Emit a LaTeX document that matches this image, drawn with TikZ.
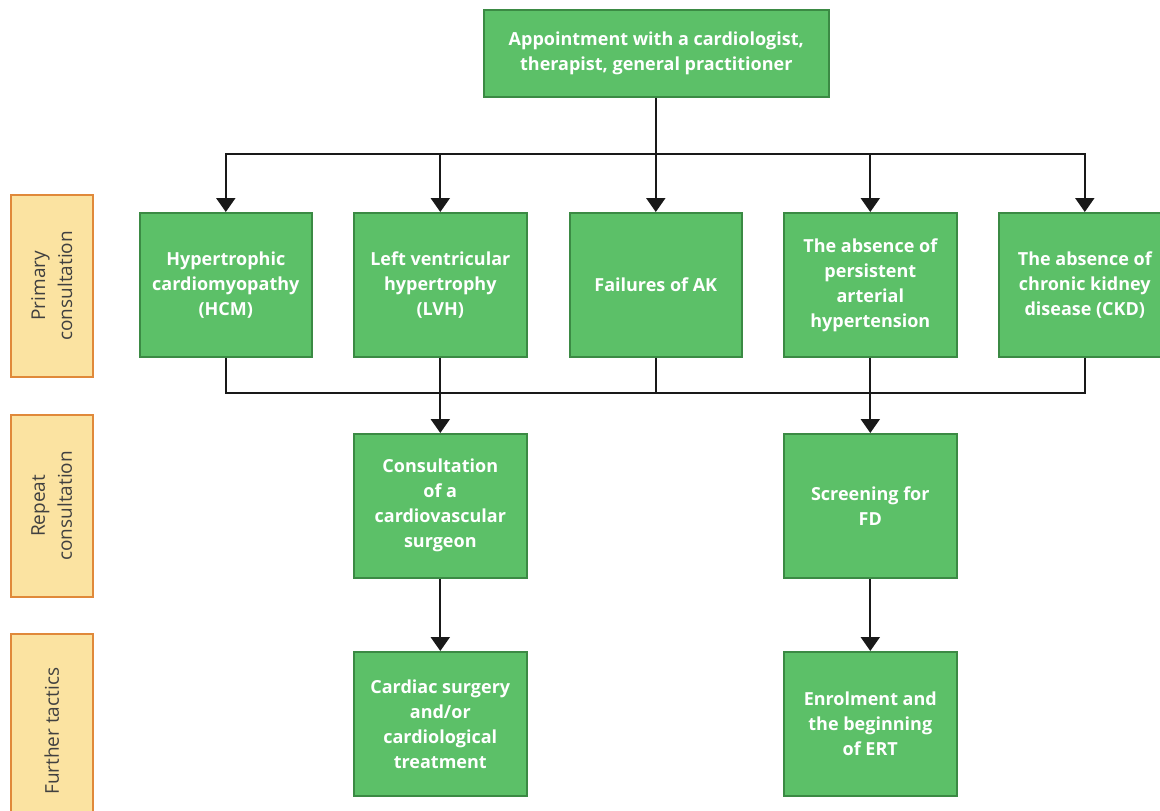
\documentclass[tikz,border=0pt]{standalone}
\usepackage{fontspec}
\setmainfont{Open Sans}
\usetikzlibrary{arrows.meta}
\definecolor{boxgreen}{HTML}{5CC068}
\definecolor{boxedge}{HTML}{3B8A44}
\definecolor{sidefill}{HTML}{FBE3A1}
\definecolor{sidetext}{HTML}{404040}
\definecolor{sideedge}{HTML}{E0893A}
\tikzset{
  gbox/.style={draw=boxedge, line width=1.6pt, fill=boxgreen, text=white, font=\fontsize{18}{25}\selectfont\bfseries, align=center, inner sep=0pt, anchor=north west},
  sidebox/.style={draw=sideedge, line width=1.6pt, fill=sidefill, anchor=north west},
  sidelabel/.style={text=sidetext, font=\fontsize{19}{27}\selectfont, align=center, rotate=90},
  conn/.style={line width=2.2pt, draw=black!90},
  arr/.style={conn, -{Triangle[length=14pt,width=19pt]}},
}
\begin{document}
\begin{tikzpicture}[x=1pt,y=-1pt]
\useasboundingbox (0,0) rectangle (1160,811);
\clip (0,0) rectangle (1160,811);
% side labels
\node[sidebox, minimum width=82pt, minimum height=182pt] (s1) at (10,194) {};
\node[sidelabel] (s1t) at (s1.center) {Primary\\consultation};
\node[sidebox, minimum width=82pt, minimum height=182pt] (s2) at (10,414) {};
\node[sidelabel] (s2t) at (s2.center) {Repeat\\consultation};
\node[sidebox, minimum width=82pt, minimum height=185pt] (s3) at (10,633) {};
\node[sidelabel] (s3t) at ([yshift=-5pt]s3.center) {Further tactics};
% top
\node[gbox, minimum width=345pt, minimum height=87pt] (top) at (483,9) {Appointment with a cardiologist,\\therapist, general practitioner};
% row 1
\node[gbox, minimum width=172pt, minimum height=144pt] (b1) at (139,212) {Hypertrophic\\cardiomyopathy\\(HCM)};
\node[gbox, minimum width=173pt, minimum height=144pt] (b2) at (353,212) {Left ventricular\\hypertrophy\\(LVH)};
\node[gbox, minimum width=172pt, minimum height=144pt] (b3) at (569,212) {Failures of AK};
\node[gbox, minimum width=173pt, minimum height=144pt] (b4) at (783,212) {The absence of\\persistent\\arterial\\hypertension};
\node[gbox, minimum width=172pt, minimum height=144pt] (b5) at (998,212) {The absence of\\chronic kidney\\disease (CKD)};
% row 2
\node[gbox, minimum width=173pt, minimum height=144pt] (c1) at (353,433) {Consultation\\of a\\cardiovascular\\surgeon};
\node[gbox, minimum width=173pt, minimum height=144pt] (c2) at (783,433) {Screening for\\FD};
% row 3
\node[gbox, minimum width=173pt, minimum height=144pt] (d1) at (353,651) {Cardiac surgery\\and/or\\cardiological\\treatment};
\node[gbox, minimum width=173pt, minimum height=144pt] (d2) at (783,651) {Enrolment and\\the beginning\\of ERT};
% bus coordinates
\coordinate (bus1) at (0,154);
\coordinate (bus2) at (0,393);
% top distribution
\draw[conn] (top.south) -- (top.south |- bus1);
\draw[conn, line cap=rect] (b1.north |- bus1) -- (b5.north |- bus1);
\foreach \b in {b1,b2,b3,b4,b5}{
  \draw[arr] (\b.north |- bus1) -- (\b.north);
}
% lower bus
\foreach \b in {b1,b2,b3,b4,b5}{
  \draw[conn] (\b.south) -- (\b.south |- bus2);
}
\draw[conn, line cap=rect] (b1.south |- bus2) -- (b5.south |- bus2);
\draw[arr] (c1.north |- bus2) -- (c1.north);
\draw[arr] (c2.north |- bus2) -- (c2.north);
\draw[arr] (c1.south) -- (d1.north);
\draw[arr] (c2.south) -- (d2.north);
\end{tikzpicture}
\end{document}
